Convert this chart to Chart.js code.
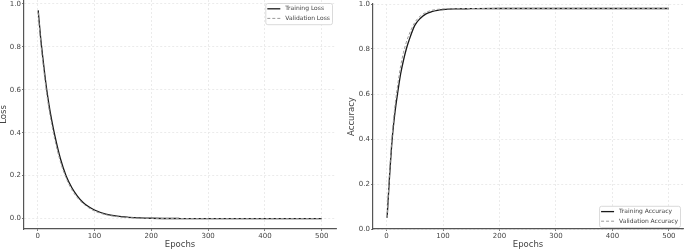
<!DOCTYPE html>
<html>
<head>
<meta charset="utf-8">
<script src="https://cdn.jsdelivr.net/npm/chart.js@4.4.0/dist/chart.umd.min.js"></script>
<style>
  html, body { margin: 0; padding: 0; background: #fff; }
  #wrap { position: relative; width: 685px; height: 250px; }
  canvas { position: absolute; top: 0; }
  #lossChart { left: 0; }
  #accChart { left: 345px; }
</style>
</head>
<body>
<div id="wrap">
  <canvas id="lossChart" width="340" height="250"></canvas>
  <canvas id="accChart" width="340" height="250"></canvas>
</div>
<script>
const lossEpochs = [1, 5, 10, 15, 20, 25, 30, 40, 50, 60, 70, 80, 90, 100, 120, 140, 160, 180, 200, 250, 300, 400, 500];
const trainLoss = [0.97, 0.85, 0.73, 0.62, 0.53, 0.455, 0.39, 0.28, 0.20, 0.145, 0.105, 0.075, 0.055, 0.04, 0.021, 0.011, 0.006, 0.003, 0.0015, 0.0003, 0.0001, 0, 0];
const valLoss = [0.96, 0.83, 0.71, 0.60, 0.51, 0.435, 0.37, 0.265, 0.19, 0.135, 0.097, 0.07, 0.05, 0.035, 0.018, 0.009, 0.0045, 0.002, 0.001, 0.0002, 0, 0, 0];

const accEpochs = [1, 5, 10, 15, 20, 25, 30, 35, 40, 50, 60, 70, 80, 90, 100, 120, 150, 200, 300, 400, 500];
const trainAcc = [0.05, 0.22, 0.40, 0.52, 0.61, 0.69, 0.75, 0.80, 0.84, 0.905, 0.937, 0.956, 0.966, 0.972, 0.975, 0.978, 0.979, 0.98, 0.98, 0.98, 0.98];
const valAcc = [0.05, 0.24, 0.42, 0.55, 0.645, 0.725, 0.785, 0.83, 0.865, 0.918, 0.947, 0.963, 0.972, 0.976, 0.978, 0.979, 0.98, 0.98, 0.98, 0.98, 0.98];

const epochTicks = [0, 100, 200, 300, 400, 500];
const yTicks = [0, 0.2, 0.4, 0.6, 0.8, 1.0];

const FONT = "'DejaVu Sans', sans-serif";
const TEXT = '#444';

// legend drawn inside the plot area, matplotlib style
const insideLegend = {
  id: 'insideLegend',
  afterDatasetsDraw(chart, args, opts) {
    const ctx = chart.ctx;
    const area = chart.chartArea;
    const sets = chart.data.datasets;
    ctx.save();
    ctx.font = '6px ' + FONT;
    const textW = Math.max(...sets.map(d => ctx.measureText(d.label).width));
    const rowH = 9.6;
    const w = 2 + 13 + 5 + textW + 2;
    const h = rowH * sets.length + 2;
    const x = area.right - opts.marginX - w;
    const y = opts.corner === 'top' ? area.top + opts.marginY : area.bottom - opts.marginY - h;
    ctx.fillStyle = 'rgba(255,255,255,0.85)';
    ctx.strokeStyle = '#d0d0d0';
    ctx.lineWidth = 0.8;
    ctx.beginPath();
    ctx.roundRect(x + 0.5, y + 0.5, w, h, 2);
    ctx.fill();
    ctx.stroke();
    sets.forEach((d, i) => {
      const cy = y + 1 + rowH * i + rowH / 2;
      ctx.strokeStyle = d.borderColor;
      ctx.lineWidth = d.borderWidth;
      ctx.setLineDash(d.borderDash || []);
      ctx.beginPath();
      ctx.moveTo(x + 2, cy);
      ctx.lineTo(x + 15, cy);
      ctx.stroke();
      ctx.setLineDash([]);
      ctx.fillStyle = TEXT;
      ctx.textBaseline = 'middle';
      ctx.textAlign = 'left';
      ctx.fillText(d.label, x + 20, cy);
    });
    ctx.restore();
  }
};

function makeChart(id, cfg) {
  const toPoints = (xs, ys) => xs.map((x, i) => ({ x: x, y: ys[i] }));
  return new Chart(document.getElementById(id), {
    type: 'line',
    data: {
      datasets: [{
        label: cfg.labels[0],
        data: toPoints(cfg.epochs, cfg.train),
        borderColor: '#1a1a1a',
        borderWidth: 1.3,
        pointRadius: 0,
        cubicInterpolationMode: 'monotone',
        order: 1
      }, {
        label: cfg.labels[1],
        data: toPoints(cfg.epochs, cfg.val),
        borderColor: '#9a9a9a',
        borderWidth: 1,
        borderDash: [3, 2],
        pointRadius: 0,
        cubicInterpolationMode: 'monotone',
        order: 0
      }]
    },
    options: {
      responsive: false,
      animation: false,
      devicePixelRatio: 1,
      layout: { padding: cfg.padding },
      plugins: {
        legend: { display: false },
        tooltip: { enabled: false },
        insideLegend: cfg.legend
      },
      scales: {
        x: {
          type: 'linear',
          min: -24,
          max: 525,
          afterBuildTicks: s => { s.ticks = epochTicks.map(v => ({ value: v })); },
          afterFit: s => { s.height = 21; s.paddingLeft = 0; s.paddingRight = 0; },
          grid: { color: '#e6e6e6', lineWidth: 0.8, tickColor: '#555', tickLength: 2, tickWidth: 0.8 },
          border: { color: '#555', width: 1.2, dash: [2, 2] },
          ticks: { color: TEXT, font: { family: FONT, size: 7 }, padding: 1, maxRotation: 0,
                   callback: v => String(v) },
          title: { display: true, text: 'Epochs', color: TEXT, font: { family: FONT, size: 8.5, lineHeight: 1 },
                   padding: { top: 0, bottom: 1 } }
        },
        y: {
          min: cfg.yMin,
          max: cfg.yMax,
          afterBuildTicks: s => { s.ticks = yTicks.map(v => ({ value: v })); },
          afterFit: s => { s.width = cfg.yWidth; s.paddingTop = 0; s.paddingBottom = 0; },
          grid: { color: '#e6e6e6', lineWidth: 0.8, tickColor: '#555', tickLength: 2, tickWidth: 0.8 },
          border: { color: '#555', width: 1.2, dash: [2, 2] },
          ticks: { color: TEXT, font: { family: FONT, size: 7 }, padding: 1,
                   callback: v => v.toFixed(1) },
          title: { display: true, text: cfg.yTitle, color: TEXT, font: { family: FONT, size: 8.5, lineHeight: 1 },
                   padding: { top: cfg.titlePad, bottom: 0 } }
        }
      }
    },
    plugins: [insideLegend]
  });
}

makeChart('lossChart', {
  labels: ['Training Loss', 'Validation Loss'],
  epochs: lossEpochs, train: trainLoss, val: valLoss,
  yMin: -0.0485, yMax: 1.0185, yTitle: 'Loss', yWidth: 24, titlePad: 0,
  padding: { left: 0, right: 4, top: 0, bottom: 0 },
  legend: { corner: 'top', marginX: 4, marginY: 3 }
});

makeChart('accChart', {
  labels: ['Training Accuracy', 'Validation Accuracy'],
  epochs: accEpochs, train: trainAcc, val: valAcc,
  yMin: 0, yMax: 1, yTitle: 'Accuracy', yWidth: 28, titlePad: 2.75,
  padding: { left: 0, right: 2, top: 4, bottom: 0 },
  legend: { corner: 'bottom', marginX: 3, marginY: 2 }
});
</script>
</body>
</html>
